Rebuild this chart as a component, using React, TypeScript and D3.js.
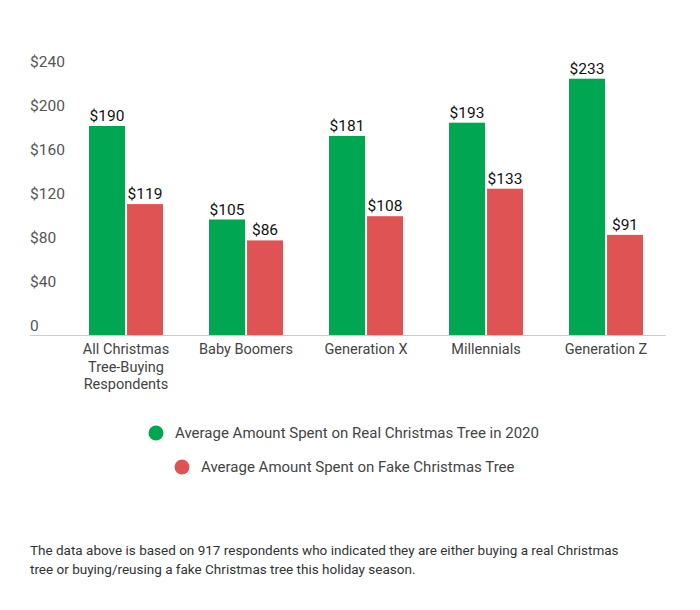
import React from "react";
import * as d3 from "d3";

const WIDTH = 700;
const HEIGHT = 610;
const MARGIN = { top: 71, right: 34, bottom: 275, left: 66 };

const CATEGORIES = [
  ["All Christmas", "Tree-Buying", "Respondents"],
  ["Baby Boomers"],
  ["Generation X"],
  ["Millennials"],
  ["Generation Z"],
];
const SERIES = ["Average Amount Spent on Real Christmas Tree in 2020", "Average Amount Spent on Fake Christmas Tree"];
const REAL = [190, 105, 181, 193, 233];
const FAKE = [119, 86, 108, 133, 91];
const Y_TICKS = [0, 40, 80, 120, 160, 200, 240];
const COLORS = ["#00A651", "#DF5355"];
const NOTE = [
  "The data above is based on 917 respondents who indicated they are either buying a real Christmas",
  "tree or buying/reusing a fake Christmas tree this holiday season.",
];

const FONT = "Roboto, 'Noto Sans', sans-serif";

export default function App() {
  const boundsWidth = WIDTH - MARGIN.left - MARGIN.right;
  const baseline = 335;
  const keys = CATEGORIES.map((c) => c.join(" "));

  const x0 = d3.scaleBand().domain(keys).range([MARGIN.left, MARGIN.left + boundsWidth]).padding(0);
  const x1 = d3
    .scaleBand()
    .domain(SERIES)
    .range([x0.bandwidth() / 2 - 37, x0.bandwidth() / 2 + 37])
    .paddingInner(0.054);
  const y = d3.scaleLinear().domain([0, 240]).range([baseline, MARGIN.top]);

  const values = [REAL, FAKE];

  return (
    <svg width={WIDTH} height={HEIGHT} style={{ position: "absolute", left: 0, top: 0, fontFamily: FONT }}>
      <rect width={WIDTH} height={HEIGHT} fill="#fff" />
      {Y_TICKS.map((t) => (
        <text key={t} x={30} y={y(t) - 4} fontSize={15.5} fill="#555">
          {t === 0 ? "0" : `$${t}`}
        </text>
      ))}
      {keys.map((k, i) => (
        <g key={k} transform={`translate(${x0(k)},0)`}>
          {SERIES.map((s, j) => {
            const v = values[j][i];
            const bx = x1(s)!;
            return (
              <g key={s}>
                <rect x={bx} y={y(v)} width={x1.bandwidth()} height={baseline - y(v)} fill={COLORS[j]} />
                <text
                  x={bx + x1.bandwidth() / 2}
                  y={y(v) - 5}
                  textAnchor="middle"
                  fontSize={15.5}
                  fill="#111"
                >
                  ${v}
                </text>
              </g>
            );
          })}
          {CATEGORIES[i].map((line, li) => (
            <text
              key={li}
              x={x0.bandwidth() / 2}
              y={354 + li * 17.5}
              textAnchor="middle"
              fontSize={14.5}
              fill="#444"
            >
              {line}
            </text>
          ))}
        </g>
      ))}
      <line x1={30} x2={MARGIN.left + boundsWidth} y1={baseline + 0.5} y2={baseline + 0.5} stroke="#ccc" />
      {SERIES.map((s, j) => {
        const cx = j === 0 ? 156 : 182;
        const cy = j === 0 ? 433 : 467;
        return (
          <g key={s}>
            <circle cx={cx} cy={cy} r={7.5} fill={COLORS[j]} />
            <text x={cx + 19} y={cy + 5} fontSize={15} fill="#444">
              {s}
            </text>
          </g>
        );
      })}
      {NOTE.map((l, i) => (
        <text key={i} x={30} y={555 + i * 19} fontSize={13.5} fill="#333">
          {l}
        </text>
      ))}
    </svg>
  );
}
